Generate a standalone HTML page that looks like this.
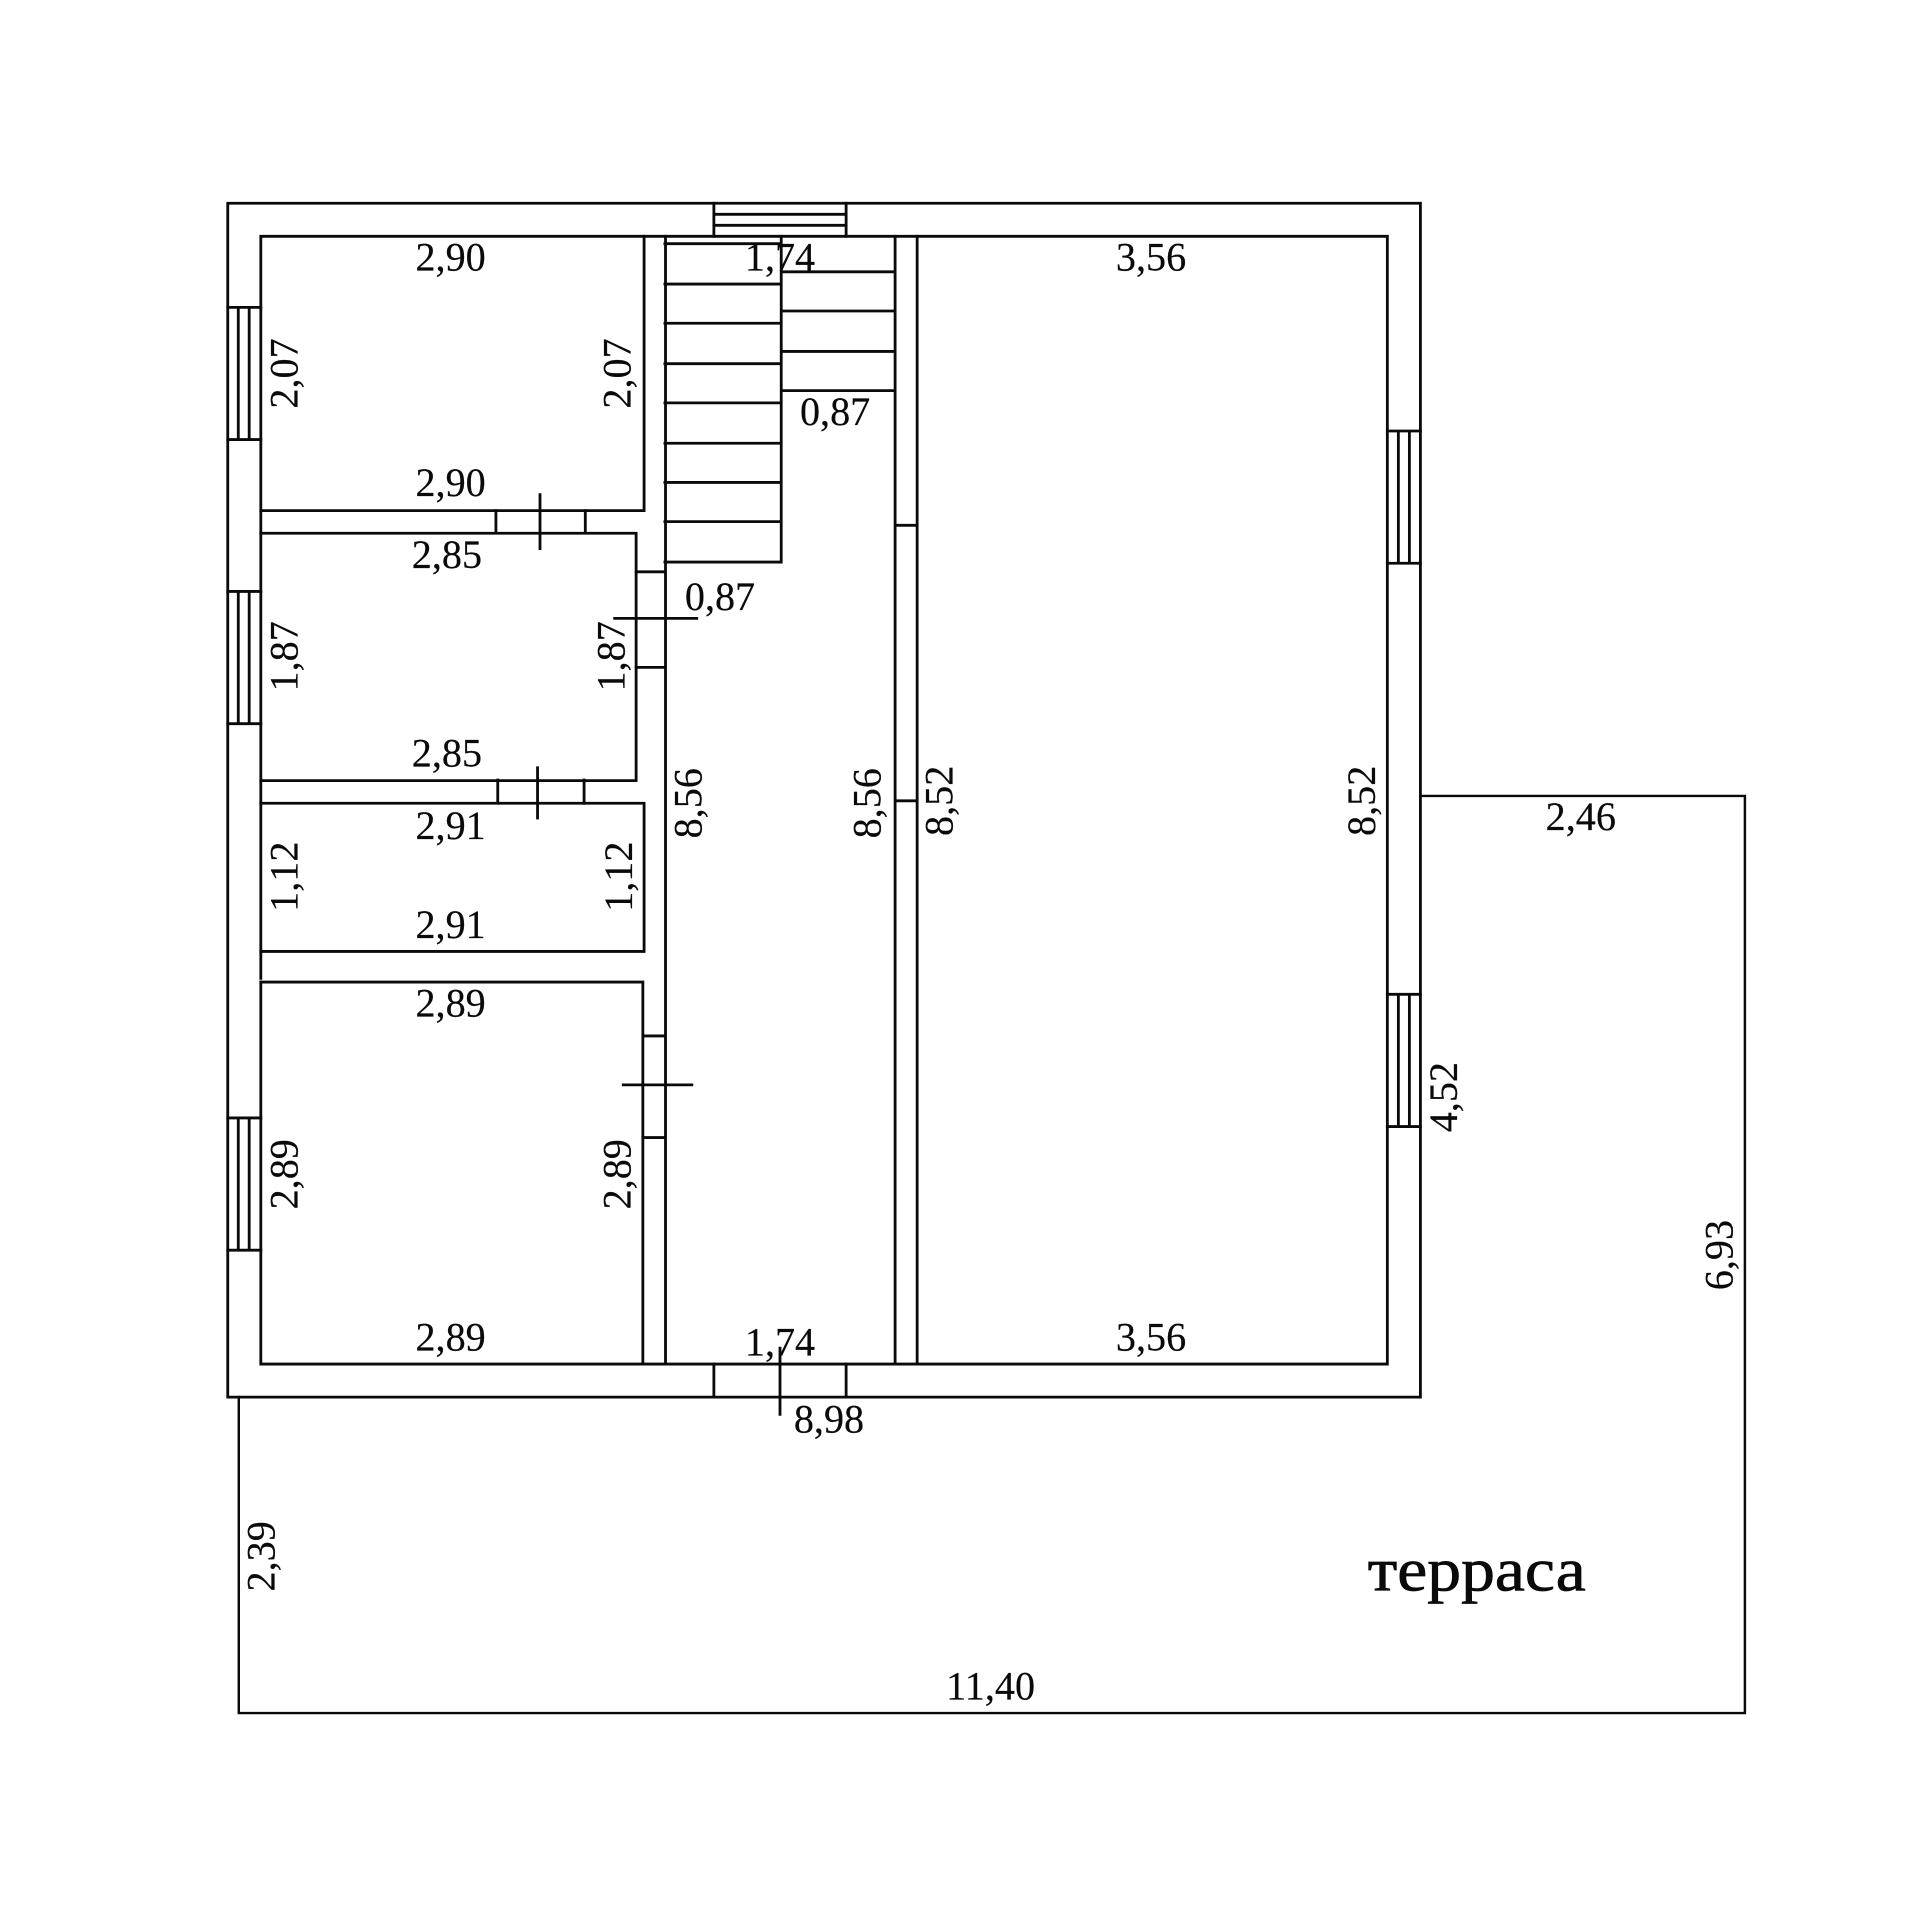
<!DOCTYPE html>
<html><head><meta charset="utf-8"><style>html,body{margin:0;padding:0;background:#fff}svg{display:block}text{font-family:"Liberation Serif",serif;font-size:32.8px;fill:#0a0a0a;stroke:#0a0a0a;stroke-width:.15px;text-anchor:middle}</style></head><body>
<svg xmlns="http://www.w3.org/2000/svg" width="1920" height="1920" viewBox="0 0 1568 1568">
<rect width="1568" height="1568" fill="#fff"/>
<g fill="none" stroke="#0a0a0a" stroke-width="2.3" stroke-linecap="square">
<path d="M186 166H1160V1141H186Z"/>
<path d="M213 193H1133V1114H213V802M213 799V193"/>
<path d="M526 193V417H213M543.5 193V1114M213 435.5H519.5V637.5H213M213 656H526V777H213M213 802H525V1114"/>
<path d="M405 417V435M478 417V435M441 404V448M406.5 637V656M477 637V656M439 627V668"/>
<path d="M519.5 467H543M519.5 545H543M502 505H569M525 846H543M525 929H543M509 886H565"/>
<path d="M731 193V1114M749 193V1114M731 429H749M731 654H749"/>
<path d="M543 199H638M543 232H638M543 264H638M543 297H638M543 329H638M543 362H638M543 394H638M543 426H638M543 459H638M638 193V459M638 222H731M638 254H731M638 287H731M638 319H731"/>
<path d="M583 166V193M691 166V193M583 175H691M583 184H691"/>
<path d="M186 251H213M186 359H213M194.6 251V359M203.5 251V359M186 483H213M186 591H213M194.6 483V591M203.5 483V591M186 913H213M186 1021H213M194.6 913V1021M203.5 913V1021"/>
<path d="M1133 352H1160M1133 460H1160M1142 352V460M1151 352V460M1133 812H1160M1133 920H1160M1142 812V920M1151 812V920"/>
<path d="M583 1114V1141M691 1114V1141M637 1101V1155"/>
<path d="M1160 650H1425V1399H195V1141" stroke-width="2"/>
</g>
<text x="368" y="221">2,90</text>
<text x="368" y="405">2,90</text>
<text x="637" y="221">1,74</text>
<text x="940" y="221">3,56</text>
<text x="682" y="347">0,87</text>
<text x="365" y="464">2,85</text>
<text x="365" y="626">2,85</text>
<text x="588" y="498">0,87</text>
<text x="368" y="685">2,91</text>
<text x="368" y="766">2,91</text>
<text x="368" y="830">2,89</text>
<text x="368" y="1103">2,89</text>
<text x="637" y="1107">1,74</text>
<text x="940" y="1103">3,56</text>
<text x="1291" y="678">2,46</text>
<text x="677" y="1170">8,98</text>
<text x="809" y="1388">11,40</text>
<text x="1206" y="1299" style="font-size:50px;stroke-width:.6px" textLength="178" lengthAdjust="spacingAndGlyphs">терраса</text>
<text transform="translate(243 305) rotate(-90)">2,07</text>
<text transform="translate(515 305) rotate(-90)">2,07</text>
<text transform="translate(243 536) rotate(-90)">1,87</text>
<text transform="translate(510 536) rotate(-90)">1,87</text>
<text transform="translate(243 716) rotate(-90)">1,12</text>
<text transform="translate(516 716) rotate(-90)">1,12</text>
<text transform="translate(243 959) rotate(-90)">2,89</text>
<text transform="translate(515 959) rotate(-90)">2,89</text>
<text transform="translate(573 656) rotate(-90)">8,56</text>
<text transform="translate(719 656) rotate(-90)">8,56</text>
<text transform="translate(778 654) rotate(-90)">8,52</text>
<text transform="translate(1123 654) rotate(-90)">8,52</text>
<text transform="translate(1190 896) rotate(-90)">4,52</text>
<text transform="translate(1415 1025) rotate(-90)">6,93</text>
<text transform="translate(224 1271) rotate(-90)">2,39</text>
</svg>
</body></html>
